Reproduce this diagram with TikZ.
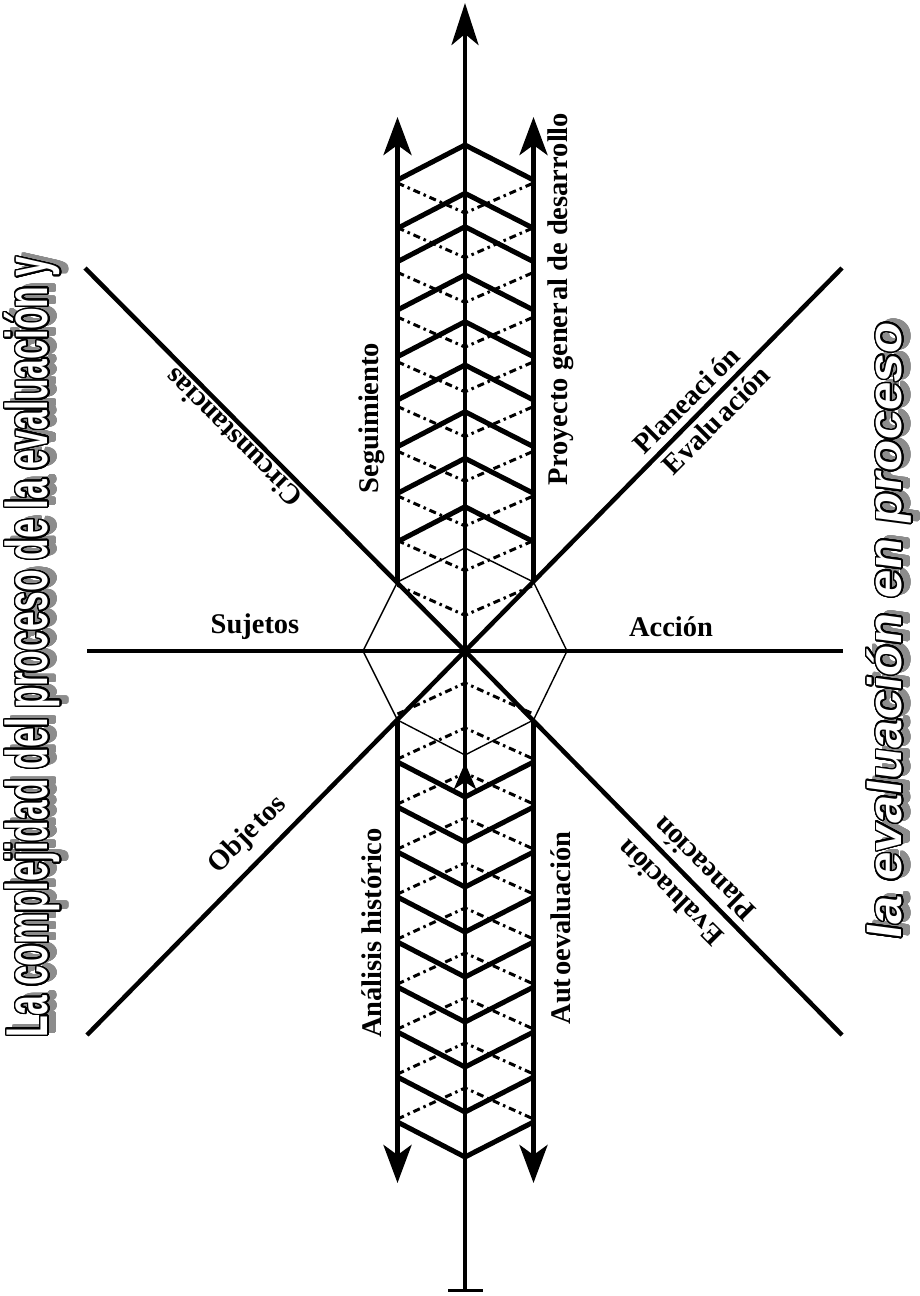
\documentclass[tikz,border=0pt]{standalone}
\usepackage{fontspec}
\setmainfont{Liberation Serif}
\newfontfamily\wafontA[FakeStretch=0.62]{Liberation Sans}
\newfontfamily\wafontB[FakeSlant=0.12]{Liberation Sans}
\usepackage{contour}
\contourlength{1.3pt}
\contournumber{32}
\usetikzlibrary{arrows.meta,calc}
\begin{document}
\begin{tikzpicture}[x=1pt,y=-1pt,line join=miter,
  axis/.style={line width=4.5pt},
  chev/.style={line width=5pt},
  dotl/.style={line width=3pt,dash pattern=on 7pt off 4pt on 2.5pt off 4pt},
  thinl/.style={line width=1.4pt},
  lbl/.style={font=\fontsize{28.5}{30}\selectfont\bfseries,inner sep=0pt},
  bigtip/.style={-{Stealth[length=42pt,width=27pt,inset=11pt]}},
  sidetip/.style={-{Stealth[length=38pt,width=28pt,inset=10pt]}},
  smalltip/.style={-{Stealth[length=26pt,width=22pt,inset=7pt]}}]
\useasboundingbox (0,0) rectangle (920,1296);
% key coordinates
\coordinate (O) at (465,651);
\coordinate (Ttop) at (465,3);
\coordinate (Tbot) at (465,1290);
\coordinate (TickL) at (448,1290);
\coordinate (TickR) at (483,1290);
\coordinate (TL) at (85,268);
\coordinate (TR) at (842,268);
\coordinate (BL) at (87,1035);
\coordinate (BR) at (842,1035);
\coordinate (HL) at (87,651);
\coordinate (HR) at (843,651);
\coordinate (LU) at (397.5,582);
\coordinate (RU) at (533.5,582);
\coordinate (LD) at (397.5,720);
\coordinate (RD) at (533.5,720);
\coordinate (LUt) at (397.5,117);
\coordinate (RUt) at (533.5,117);
\coordinate (LDt) at (397.5,1183);
\coordinate (RDt) at (533.5,1183);
\coordinate (Ot) at (465,548);
\coordinate (Ob) at (465,755);
\coordinate (Ol) at (363,651);
\coordinate (Or) at (567,651);
\coordinate (Sa) at (465,800);
\coordinate (Sb) at (465,763);
% dotted V's (upper)
\foreach \k in {0,...,9}{
  \pgfmathsetmacro{\ye}{183+44.7*\k}
  \draw[dotl] (397.5,\ye) -- (465,\ye+30) -- (533.5,\ye);
}
% dotted ^ (lower)
\foreach \k in {0,...,9}{
  \pgfmathsetmacro{\ya}{683+45*\k}
  \draw[dotl] (397.5,\ya+31) -- (465,\ya) -- (533.5,\ya+31);
}
% solid chevrons upper
\foreach \a in {145,193.3,226.7,275,321.7,365,411.7,458.3,506.7}{
  \draw[chev] (397.5,\a+35) -- (465,\a) -- (533.5,\a+35);
}
% solid chevrons lower
\foreach \k in {0,...,8}{
  \pgfmathsetmacro{\ye}{762+45*\k}
  \draw[chev] (397.5,\ye) -- (465,\ye+35) -- (533.5,\ye);
}
% octagon (thin)
\draw[thinl] (LU) -- (Ot) -- (RU) -- (Or) -- (RD) -- (Ob) -- (LD) -- (Ol) -- cycle;
% diagonals and horizontal
\draw[axis] (TL) -- (O) -- (BR);
\draw[axis] (TR) -- (O) -- (BL);
\draw[axis] (HL) -- (HR);
% side arrows
\draw[chev,sidetip] (LU) -- (LUt);
\draw[chev,sidetip] (RU) -- (RUt);
\draw[chev,sidetip] (LD) -- (LDt);
\draw[chev,sidetip] (RD) -- (RDt);
% main axis
\draw[axis,bigtip] (Tbot) -- (Ttop);
\draw[line width=3pt] (TickL) -- (TickR);
\draw[axis,smalltip] (Sa) -- (Sb);
% labels
\node[lbl,rotate=90] (seg) at (372,418) {Seguimiento};
\node[lbl,rotate=90] (proy) at (561,299) {Proyecto gener\hspace{2pt}al de desarrollo};
\node[lbl,rotate=90] (anal) at (372,933) {Análisis histórico};
\node[lbl,rotate=90] (auto) at (561,928) {Aut\hspace{3pt}oevaluación};
\node[lbl] (suj) at (255,627) {Sujetos};
\node[lbl] (acc) at (671,627) {Acción};
\node[lbl,rotate=135] (circ) at (233,438) {Circunstancias};
\node[lbl,rotate=45] (plan1) at (686,400) {Planeaci\hspace{4pt}ón};
\node[lbl,rotate=45] (eval1) at (716,420) {Evalu\hspace{3pt}ación};
\node[lbl,rotate=45] (obj) at (248,835) {Obje\hspace{3pt}tos};
\node[lbl,rotate=135] (plan2) at (704,869) {Planeación};
\node[lbl,rotate=135] (eval2) at (670,893) {Evaluación};
% side titles (word-art style)
\node[rotate=90,inner sep=0pt] (tlsh) at (40,644)
  {\resizebox*{780pt}{57pt}{\fontsize{50}{55}\wafontA\bfseries\contour{black!45}{\color{black!45}La complejidad del proceso de la evaluación y}}};
\node[rotate=90,inner sep=0pt] (tl) at (33,647)
  {\resizebox*{780pt}{57pt}{\fontsize{50}{55}\wafontA\bfseries\color{white}\contour{black}{La complejidad del proceso de la evaluación y}}};
\node[rotate=90,inner sep=0pt] (trsh) at (897,629)
  {\resizebox*{617pt}{46pt}{\fontsize{40}{44}\wafontB\bfseries\contour{black!45}{\color{black!45}la evaluación en proceso}}};
\node[rotate=90,inner sep=0pt] (tr) at (890,632)
  {\resizebox*{617pt}{46pt}{\fontsize{40}{44}\wafontB\bfseries\color{white}\contour{black}{la evaluación en proceso}}};
\end{tikzpicture}
\end{document}
